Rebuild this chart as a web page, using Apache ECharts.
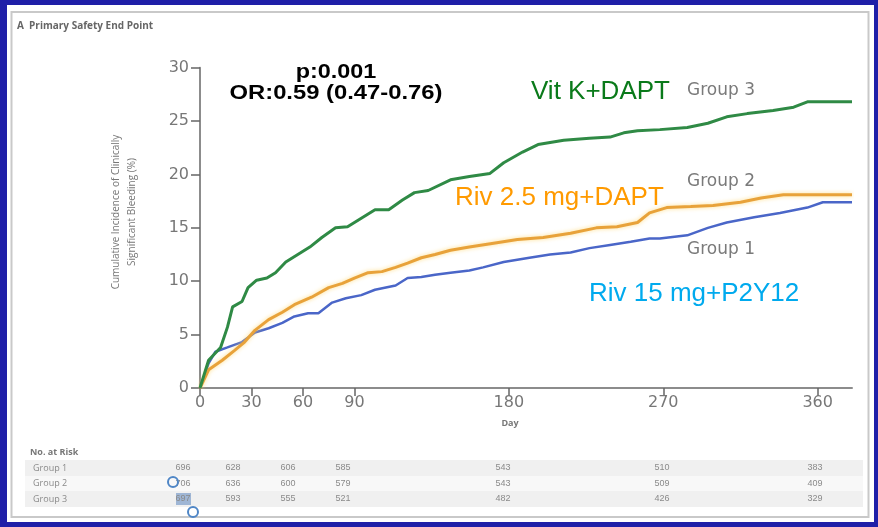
<!DOCTYPE html>
<html><head><meta charset="utf-8">
<script src="https://cdn.jsdelivr.net/npm/echarts@6/dist/echarts.min.js"></script>
<style>html,body{margin:0;padding:0;background:#1f1fa8;} #c{width:878px;height:527px;}</style>
</head><body><div id="c"></div>
<script>
// ---- data ----
const xTickValues = [0, 30, 60, 90, 180, 270, 360];
const yTickValues = [0, 5, 10, 15, 20, 25, 30];

const group3Days = [0, 5, 12, 16, 19, 24.5, 28, 33, 39, 44, 50, 57, 64, 71, 79, 86, 94, 102, 110, 118, 125, 133, 146, 157, 169, 177, 188, 197, 212, 227, 239, 247, 255, 268, 284, 296, 307, 319, 334, 346, 354, 380];
const group3Vals = [0, 2.6, 3.8, 5.7, 7.6, 8.1, 9.4, 10.1, 10.3, 10.8, 11.8, 12.5, 13.2, 14.1, 15.0, 15.1, 15.9, 16.7, 16.7, 17.6, 18.3, 18.5, 19.5, 19.8, 20.1, 21.1, 22.1, 22.8, 23.2, 23.4, 23.5, 23.9, 24.1, 24.2, 24.4, 24.8, 25.4, 25.7, 26.0, 26.3, 26.8, 26.8];

const group2Days = [0, 5, 13, 20, 26, 32, 40, 48, 55, 65, 75, 83, 90, 98, 106, 114, 121, 129, 137, 146, 157, 173, 185, 200, 216, 231, 243, 255, 262, 272, 286, 299, 315, 327, 340, 380];
const group2Vals = [0, 1.7, 2.6, 3.5, 4.3, 5.4, 6.4, 7.1, 7.8, 8.5, 9.4, 9.8, 10.3, 10.8, 10.9, 11.3, 11.7, 12.2, 12.5, 12.9, 13.2, 13.6, 13.9, 14.1, 14.5, 15.0, 15.1, 15.5, 16.4, 16.9, 17.0, 17.1, 17.4, 17.8, 18.1, 18.1];

const group1Days = [0, 5, 9, 16, 24.5, 32, 40, 48, 55, 63, 69, 77, 85, 94, 102, 114, 121, 129, 137, 146, 157, 165, 177, 192, 204, 216, 227, 239, 251, 262, 268, 284, 296, 307, 323, 338, 354, 363, 380];
const group1Vals = [0, 2.3, 3.4, 3.8, 4.3, 5.2, 5.6, 6.1, 6.7, 7.0, 7.0, 8.0, 8.4, 8.7, 9.2, 9.6, 10.3, 10.4, 10.6, 10.8, 11.0, 11.3, 11.8, 12.2, 12.5, 12.7, 13.1, 13.4, 13.7, 14.0, 14.0, 14.3, 15.0, 15.5, 16.0, 16.4, 16.9, 17.4, 17.4];

const riskGroup1 = [696, 628, 606, 585, 543, 510, 383];
const riskGroup2 = [706, 636, 600, 579, 543, 509, 409];
const riskGroup3 = [697, 593, 555, 521, 482, 426, 329];

const groupNames = ['Group 1', 'Group 2', 'Group 3'];
const treatmentNames = ['Riv 15 mg+P2Y12', 'Riv 2.5 mg+DAPT', 'Vit K+DAPT'];
const pText = 'p:0.001';
const orText = 'OR:0.59 (0.47-0.76)';
const titleText = 'A  Primary Safety End Point';
const yNameLines = ['Cumulative Incidence of Clinically', 'Significant Bleeding (%)'];
const xName = 'Day';
const riskTitle = 'No. at Risk';

// ---- chart ----
const zip = (d, v) => d.map((x, i) => [x, v[i]]);
const gray = '#8c8c8c';
const labelGray = '#777';

const graphic = [];
// panel
graphic.push({type: 'rect', z: -20, shape: {x: 7, y: 5, width: 867, height: 517}, style: {fill: '#ffffff'}});
graphic.push({type: 'rect', z: -19, shape: {x: 11.5, y: 12, width: 857, height: 505}, style: {fill: 'none', stroke: '#c9c9c9', lineWidth: 2}});
// risk table bands
graphic.push({type: 'rect', z: -15, shape: {x: 25, y: 460, width: 838, height: 16}, style: {fill: '#f0f0f0'}});
graphic.push({type: 'rect', z: -15, shape: {x: 25, y: 476, width: 838, height: 15}, style: {fill: '#f8f8f8'}});
graphic.push({type: 'rect', z: -15, shape: {x: 25, y: 491, width: 838, height: 16}, style: {fill: '#f0f0f0'}});

// title
graphic.push({type: 'text', x: 17, y: 26, z: 10, style: {text: titleText, font: 'bold 10px "Open Sans"', fill: '#666', verticalAlign: 'middle'}});
// y name (rotated)
graphic.push({type: 'text', x: 116, y: 212, rotation: Math.PI / 2, z: 10, style: {text: yNameLines[0], font: '10px "Open Sans"', fill: '#777', align: 'center', verticalAlign: 'middle'}});
graphic.push({type: 'text', x: 132, y: 212, rotation: Math.PI / 2, z: 10, style: {text: yNameLines[1], font: '10px "Open Sans"', fill: '#777', align: 'center', verticalAlign: 'middle'}});
// x name
graphic.push({type: 'text', x: 510, y: 423, z: 10, style: {text: xName, font: 'bold 9px "Open Sans"', fill: '#777', align: 'center', verticalAlign: 'middle'}});

// stats
graphic.push({type: 'text', x: 336, y: 72, scaleX: 1.17, z: 10, style: {text: pText, font: 'bold 20px "Liberation Sans"', fill: '#000', align: 'center', verticalAlign: 'middle'}});
graphic.push({type: 'text', x: 336, y: 93, scaleX: 1.19, z: 10, style: {text: orText, font: 'bold 20px "Liberation Sans"', fill: '#000', align: 'center', verticalAlign: 'middle'}});

// treatment labels
graphic.push({type: 'text', x: 531, y: 92, z: 10, style: {text: treatmentNames[2], font: '26px "Liberation Sans"', fill: '#0a7a1a', verticalAlign: 'middle'}});
graphic.push({type: 'text', x: 455, y: 198, z: 10, style: {text: treatmentNames[1], font: '26px "Liberation Sans"', fill: '#ff9a00', verticalAlign: 'middle'}});
graphic.push({type: 'text', x: 589, y: 294, z: 10, style: {text: treatmentNames[0], font: '26px "Liberation Sans"', fill: '#00aaee', verticalAlign: 'middle'}});

// group labels
graphic.push({type: 'text', x: 687, y: 91, z: 10, style: {text: groupNames[2], font: '17px "DejaVu Sans"', fill: '#7a7a7a', verticalAlign: 'middle'}});
graphic.push({type: 'text', x: 687, y: 182, z: 10, style: {text: groupNames[1], font: '17px "DejaVu Sans"', fill: '#7a7a7a', verticalAlign: 'middle'}});
graphic.push({type: 'text', x: 687, y: 250, z: 10, style: {text: groupNames[0], font: '17px "DejaVu Sans"', fill: '#7a7a7a', verticalAlign: 'middle'}});

// risk table
graphic.push({type: 'text', x: 30, y: 452, z: 10, style: {text: riskTitle, font: 'bold 9px "Open Sans"', fill: '#777', verticalAlign: 'middle'}});
const riskColX = [183, 233, 288, 343, 503, 662, 815];
const riskRowY = [468, 483.5, 499];
[riskGroup1, riskGroup2, riskGroup3].forEach((row, r) => {
  graphic.push({type: 'text', x: 33, y: riskRowY[r], z: 10, style: {text: groupNames[r], font: '9px "Open Sans"', fill: '#8a8a8a', verticalAlign: 'middle'}});
  row.forEach((v, c) => {
    graphic.push({type: 'text', x: riskColX[c], y: riskRowY[r], z: 10, style: {text: String(v), font: '9px "Liberation Sans Narrow", "Liberation Sans"', fill: '#8a8a8a', align: 'center', verticalAlign: 'middle'}});
  });
});
// selection artifacts in the reference screenshot
graphic.push({type: 'rect', z: 5, shape: {x: 176, y: 493, width: 15, height: 12}, style: {fill: 'rgba(60,110,180,0.45)'}});
graphic.push({type: 'circle', z: 11, shape: {cx: 173, cy: 482, r: 5}, style: {fill: 'none', stroke: '#4f86c6', lineWidth: 2}});
graphic.push({type: 'circle', z: 11, shape: {cx: 193, cy: 512, r: 5}, style: {fill: 'none', stroke: '#4f86c6', lineWidth: 2}});

const option = {
  backgroundColor: '#1f1fa8',
  animation: false,
  grid: {left: 200, right: 26, top: 67.7, bottom: 139},
  xAxis: {
    type: 'value', min: 0, max: 380, interval: 30,
    axisLine: {show: true, onZero: false, lineStyle: {color: gray, width: 2}},
    axisTick: {show: true, length: 8, customValues: xTickValues, lineStyle: {color: '#666', width: 1.5}},
    axisLabel: {customValues: xTickValues, margin: 7, color: labelGray, fontFamily: 'DejaVu Sans', fontSize: 16},
    splitLine: {show: false}
  },
  yAxis: {
    type: 'value', min: 0, max: 30, interval: 5,
    axisLine: {show: true, onZero: false, lineStyle: {color: gray, width: 2}},
    axisTick: {show: true, length: 9, customValues: yTickValues, lineStyle: {color: '#666', width: 1.5}},
    axisLabel: {customValues: yTickValues, margin: 11, color: labelGray, fontFamily: 'DejaVu Sans', fontSize: 16},
    splitLine: {show: false}
  },
  series: [
    {name: groupNames[0], type: 'line', data: zip(group1Days, group1Vals), showSymbol: false, z: 3,
     lineStyle: {color: '#4a66c8', width: 2.5}},
    {name: groupNames[1], type: 'line', data: zip(group2Days, group2Vals), showSymbol: false, z: 4,
     lineStyle: {color: '#e8a23a', width: 3, shadowColor: 'rgba(255,215,110,0.8)', shadowBlur: 4}},
    {name: groupNames[2], type: 'line', data: zip(group3Days, group3Vals), showSymbol: false, z: 5,
     lineStyle: {color: '#2f8a45', width: 3}}
  ],
  graphic: graphic
};
const chart = echarts.init(document.getElementById('c'), null, {renderer: 'canvas'});
chart.setOption(option);
</script></body></html>
